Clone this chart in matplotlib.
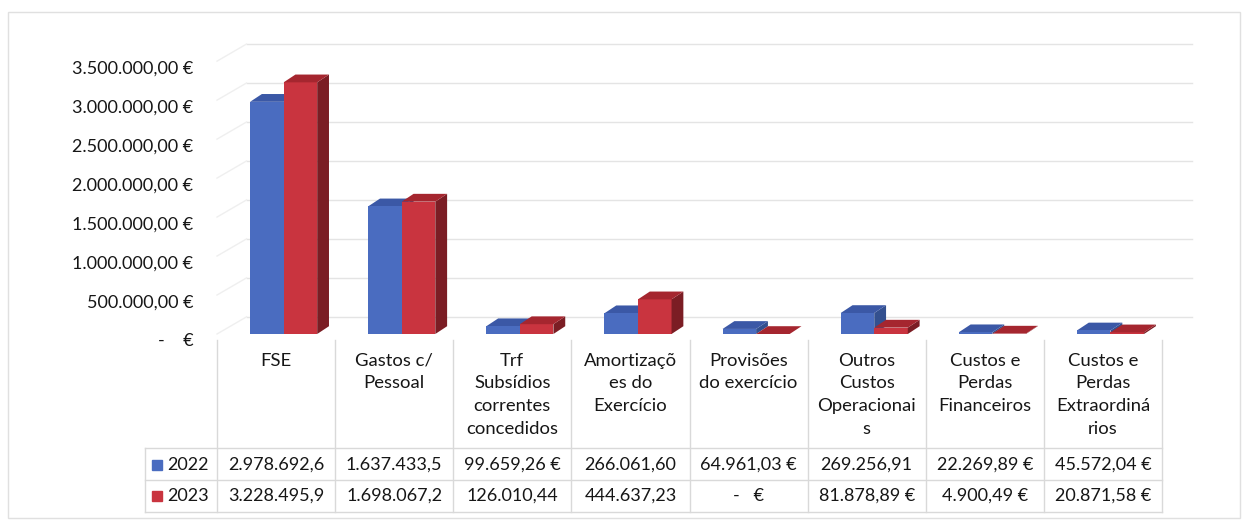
import numpy as np
import matplotlib
matplotlib.use("Agg")
import matplotlib.pyplot as plt
import matplotlib.transforms as mtransforms
from matplotlib.patches import Polygon, Rectangle
from matplotlib.ticker import FuncFormatter

plt.rcParams['font.family'] = ['Lato', 'DejaVu Sans']

# data
categorias = ['FSE', 'Gastos c/\nPessoal', 'Trf\nSubsídios\ncorrentes\nconcedidos',
              'Amortizaçõ\nes do\nExercício', 'Provisões\ndo exercício',
              'Outros\nCustos\nOperacionai\ns', 'Custos e\nPerdas\nFinanceiros',
              'Custos e\nPerdas\nExtraordiná\nrios']
anos = ['2022', '2023']
v2022 = [2978692.6, 1637433.5, 99659.26, 266061.60, 64961.03, 269256.91, 22269.89, 45572.04]
v2023 = [3228495.9, 1698067.2, 126010.44, 444637.23, 0.0, 81878.89, 4900.49, 20871.58]
txt2022 = ['2.978.692,6', '1.637.433,5', '99.659,26 €', '266.061,60', '64.961,03 €',
           '269.256,91', '22.269,89 €', '45.572,04 €']
txt2023 = ['3.228.495,9', '1.698.067,2', '126.010,44', '444.637,23', '-   €',
           '81.878,89 €', '4.900,49 €', '20.871,58 €']
yticks = [0, 500000, 1000000, 1500000, 2000000, 2500000, 3000000, 3500000]

cor_frente = ['#4a6cc0', '#c9343f']
cor_topo = ['#3b58a6', '#a5262f']
cor_lado = ['#33508f', '#7b1d24']
cor_linha = '#d9d9d9'
cor_texto = '#161616'

W, H = 1249, 526
fig = plt.figure(figsize=(W / 100, H / 100), dpi=100)


def fx(px):
    return px / W


def fy(py):
    return 1 - py / H


ax = fig.add_axes([fx(217), fy(334), fx(1162) - fx(217), fy(30) - fy(334)])
ax.set_xlim(-0.5, 7.5)
ax.set_ylim(0, 3.9e6)
for s in ax.spines.values():
    s.set_visible(False)
ax.set_xticks([])

bw = 0.284      # largura das barras
off = 0.064     # desvio do par em relação ao centro
dx, dy = 0.10, 0.10e6    # profundidade das barras
wdx, wdy = 0.25, 0.22e6  # profundidade da parede

# parede do fundo
for v in yticks:
    ax.plot([-0.5 + wdx, 7.5 + wdx], [v + wdy] * 2, color='#e4e4e4', lw=1,
            clip_on=False, zorder=0)
    ax.plot([-0.5, -0.5 + wdx], [v, v + wdy], color='#efefef', lw=1,
            clip_on=False, zorder=0)

x = np.arange(len(categorias))
for i, vals in enumerate([v2022, v2023]):
    esq = x + off - bw + i * bw
    ax.bar(esq, vals, width=bw, align='edge', color=cor_frente[i],
           zorder=3 + 2 * i, linewidth=0)
    for xl, h in zip(esq, vals):
        lado = [(xl + bw, 0), (xl + bw + dx, dy), (xl + bw + dx, h + dy), (xl + bw, h)]
        topo = [(xl, h), (xl + bw, h), (xl + bw + dx, h + dy), (xl + dx, h + dy)]
        ax.add_patch(Polygon(lado, closed=True, color=cor_lado[i], lw=0,
                             zorder=2 + 3 * i))
        ax.add_patch(Polygon(topo, closed=True, color=cor_topo[i], lw=0,
                             zorder=2 + 3 * i))


def fmt(v, pos):
    if v == 0:
        return '-    €'
    s = f"{v:,.2f}".replace(',', 'X').replace('.', ',').replace('X', '.')
    return s + ' €'


ax.set_yticks(yticks)
ax.yaxis.set_major_formatter(FuncFormatter(fmt))
ax.tick_params(axis='y', length=0, pad=17, labelsize=13, labelcolor=cor_texto)
desloc = mtransforms.ScaledTranslation(0, -0.06, fig.dpi_scale_trans)
for lab in ax.yaxis.get_majorticklabels():
    lab.set_transform(lab.get_transform() + desloc)

# tabela de dados
tr = mtransforms.blended_transform_factory(ax.transData, fig.transFigure)
y_topo, y_cab, y_sep, y_fim = 340, 448, 480, 512
y_l1, y_l2 = 465, 496
for k in range(len(categorias) + 1):
    ax.plot([k - 0.5] * 2, [fy(y_topo), fy(y_fim)], color=cor_linha, lw=1,
            transform=tr, clip_on=False)
for yy in [y_cab, y_sep, y_fim]:
    fig.add_artist(plt.Line2D([fx(145), fx(1162)], [fy(yy)] * 2, color=cor_linha,
                              lw=1, transform=fig.transFigure))
fig.add_artist(plt.Line2D([fx(145)] * 2, [fy(y_cab), fy(y_fim)], color=cor_linha,
                          lw=1, transform=fig.transFigure))

for xi, cat, t1, t2 in zip(x, categorias, txt2022, txt2023):
    ax.text(xi, fy(353), cat, transform=tr, ha='center', va='top', fontsize=13.3,
            linespacing=1.5, color=cor_texto)
    ax.text(xi, fy(y_l1), t1, transform=tr, ha='center', va='center',
            fontsize=13, color=cor_texto)
    ax.text(xi, fy(y_l2), t2, transform=tr, ha='center', va='center',
            fontsize=13, color=cor_texto)

for ano, cor, yy in zip(anos, cor_frente, [y_l1, y_l2]):
    fig.add_artist(Rectangle((fx(152), fy(yy + 5)), fx(10), fy(yy - 5) - fy(yy + 5),
                             color=cor, transform=fig.transFigure))
    fig.text(fx(167), fy(yy), ano, ha='left', va='center', fontsize=13,
             color=cor_texto)

# moldura do gráfico
fig.add_artist(Rectangle((fx(8), fy(518)), fx(1240) - fx(8), fy(12) - fy(518),
                         fill=False, edgecolor='#e0e0e0', lw=1,
                         transform=fig.transFigure))

fig.savefig('out.png', dpi=100)
